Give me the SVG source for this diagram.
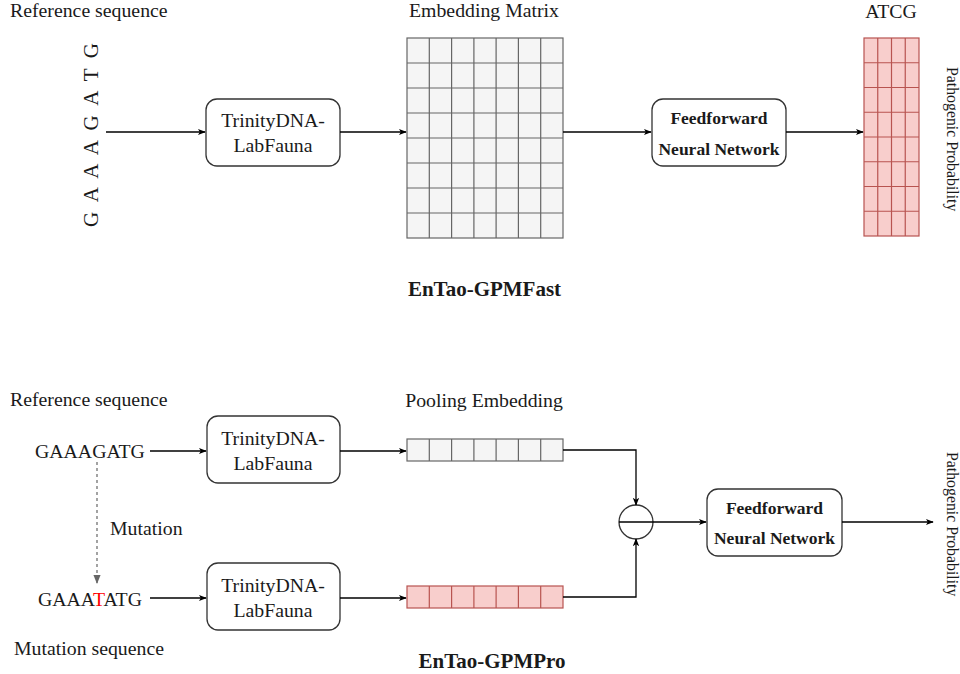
<svg xmlns="http://www.w3.org/2000/svg" width="960" height="674" viewBox="0 0 960 674" font-family="'Liberation Serif', 'Times New Roman', 'DejaVu Serif', serif">
<style>
text{font-family:'Liberation Serif','Times New Roman','DejaVu Serif',serif;fill:#1a1a1a}
.lbl{font-size:19.8px}
.mid{text-anchor:middle}
.bold{font-weight:bold;font-size:17.5px}
.title{font-weight:bold;font-size:21px;text-anchor:middle}
.box{fill:#fff;stroke:#333;stroke-width:1.3}
.gray{fill:#f5f5f5;stroke:#666;stroke-width:1.2}
.grayl{stroke:#666;stroke-width:1.2;fill:none}
.red{fill:#f8cecc;stroke:#b85450;stroke-width:1.2}
.redl{stroke:#b85450;stroke-width:1.2;fill:none}
.edge{stroke:#000;stroke-width:1.3;fill:none;marker-end:url(#arr)}
.pp{font-size:15.8px}
</style>
<defs>
<marker id="arr" viewBox="0 0 10 10" refX="9" refY="5" markerWidth="8" markerHeight="8" markerUnits="userSpaceOnUse" orient="auto"><path d="M0,1 L10,5 L0,9 L2.5,5 Z" fill="#000"/></marker>
<marker id="garr" viewBox="0 0 10 10" refX="9" refY="5" markerWidth="9" markerHeight="9" markerUnits="userSpaceOnUse" orient="auto"><path d="M0,1 L10,5 L0,9 Z" fill="#666"/></marker>
</defs>

<!-- Top section -->
<g id="top-ref-label"><text class="lbl" x="10" y="17">Reference sequence</text></g>
<g id="top-seq"><text transform="translate(98,227) rotate(-90)" x="0" y="0" font-size="21" textLength="184" lengthAdjust="spacing">G A A A G A T G</text></g>
<g id="top-trinity"><rect class="box" x="206" y="99" width="134" height="67" rx="11"/><text class="lbl mid" x="273" y="127">TrinityDNA-</text><text class="lbl mid" x="273" y="152">LabFauna</text></g>
<g id="embedding-matrix">
<text class="lbl mid" x="484" y="17">Embedding Matrix</text>
<rect class="gray" x="407" y="38" width="156" height="200"/>
<path class="grayl" d="M429.3,38V238M451.6,38V238M473.9,38V238M496.1,38V238M518.4,38V238M540.7,38V238M407,63H563M407,88H563M407,113H563M407,138H563M407,163H563M407,188H563M407,213H563"/>
</g>
<g id="top-ffn"><rect class="box" x="652" y="99" width="134" height="67" rx="11"/><text class="bold mid" x="719" y="124">Feedforward</text><text class="bold mid" x="719" y="155">Neural Network</text></g>
<g id="atcg-matrix">
<text class="lbl mid" x="891" y="18">ATCG</text>
<rect class="red" x="864" y="38" width="55" height="198"/>
<path class="redl" d="M877.75,38V236M891.5,38V236M905.25,38V236M864,62.75H919M864,87.5H919M864,112.25H919M864,137H919M864,161.75H919M864,186.5H919M864,211.25H919"/>
</g>
<g id="top-prob"><text class="pp" transform="translate(947,67) rotate(90)" x="0" y="0">Pathogenic Probability</text></g>
<g id="title-fast"><text class="title" x="484.5" y="296">EnTao-GPMFast</text></g>

<!-- Bottom section -->
<g id="bot-ref-label"><text class="lbl" x="10" y="406">Reference sequence</text></g>
<g id="ref-seq"><text class="lbl" x="35" y="458">GAAAGATG</text></g>
<g id="mut-label"><text class="lbl" x="110" y="535">Mutation</text></g>
<g id="mut-seq"><text class="lbl" x="38" y="606">GAAA<tspan style="fill:#ff0000">T</tspan>ATG</text></g>
<g id="mut-seq-label"><text class="lbl" x="14" y="655">Mutation sequence</text></g>
<g id="bot-trinity-1"><rect class="box" x="207" y="416" width="133" height="67" rx="11"/><text class="lbl mid" x="273" y="445">TrinityDNA-</text><text class="lbl mid" x="273" y="470">LabFauna</text></g>
<g id="bot-trinity-2"><rect class="box" x="207" y="563" width="133" height="67" rx="11"/><text class="lbl mid" x="273" y="592">TrinityDNA-</text><text class="lbl mid" x="273" y="617">LabFauna</text></g>
<g id="pool-ref">
<text class="lbl mid" x="484" y="407">Pooling Embedding</text>
<rect class="gray" x="407" y="439" width="156" height="22"/>
<path class="grayl" d="M429.3,439V461M451.6,439V461M473.9,439V461M496.1,439V461M518.4,439V461M540.7,439V461"/>
</g>
<g id="pool-mut">
<rect class="red" x="407" y="586" width="156" height="22"/>
<path class="redl" d="M429.3,586V608M451.6,586V608M473.9,586V608M496.1,586V608M518.4,586V608M540.7,586V608"/>
</g>
<g id="subtract"><circle cx="636" cy="522" r="17" fill="#fff" stroke="#333" stroke-width="1.3"/><line x1="619" y1="522" x2="653" y2="522" stroke="#000" stroke-width="1.3"/></g>
<g id="bot-ffn"><rect class="box" x="707" y="489" width="135" height="67" rx="11"/><text class="bold mid" x="774.5" y="514">Feedforward</text><text class="bold mid" x="774.5" y="544">Neural Network</text></g>
<g id="bot-prob"><text class="pp" transform="translate(947,452) rotate(90)" x="0" y="0">Pathogenic Probability</text></g>
<g id="title-pro"><text class="title" x="492" y="668">EnTao-GPMPro</text></g>

<g id="connectors">
<path class="edge" d="M106,132H205"/>
<path class="edge" d="M340,132H406"/>
<path class="edge" d="M563,132H651"/>
<path class="edge" d="M786,132H863"/>
<path class="edge" d="M150,451H206"/>
<path class="edge" d="M340,451H406"/>
<path class="edge" d="M150,598H206"/>
<path class="edge" d="M340,598H406"/>
<path class="edge" d="M563,450H636V505"/>
<path class="edge" d="M563,597H636V539"/>
<path class="edge" d="M653,522H706"/>
<path class="edge" d="M842,522H933"/>
<path d="M97,462V583" stroke="#666" stroke-width="1.2" stroke-dasharray="3,3" fill="none" marker-end="url(#garr)"/>
</g>
</svg>
